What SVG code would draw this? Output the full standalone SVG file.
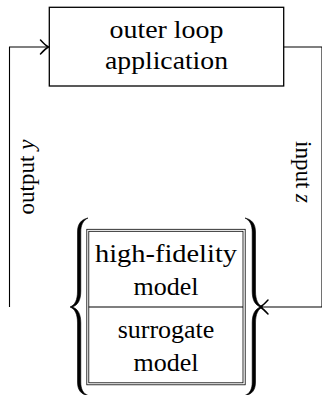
<svg xmlns="http://www.w3.org/2000/svg" width="322" height="395" viewBox="0 0 322 395">
<style>
.box{fill:#fff;stroke:#000;stroke-width:1.3}
.dbl{fill:none;stroke:#000;stroke-width:0.8}
.line{fill:none;stroke:#000;stroke-width:1.1}
.brace{fill:#000;stroke:#000;stroke-width:0.6;stroke-linejoin:round}
.txt{font-family:'Liberation Serif','DejaVu Serif',serif;font-size:26px;fill:#000;text-anchor:middle}
.lbl{font-size:23px}
</style>
<defs>
<marker id="arr" markerUnits="userSpaceOnUse" markerWidth="16" markerHeight="18" viewBox="-10 -9 12 18" refX="0" refY="0" orient="auto">
<path d="M-8,-7 Q-3,-1.5 0,0 Q-3,1.5 -8,7" fill="none" stroke="#000" stroke-width="1.5" stroke-linecap="round"/>
</marker>
</defs>
<g id="connectors">
<path class="line" d="M9.5,307 V47 H48.5" marker-end="url(#arr)"/>
<path class="line" d="M284,47 H322 V307 H260" marker-end="url(#arr)"/>
</g>
<g id="outer-loop">
<rect class="box" x="49.3" y="7.3" width="234.4" height="78.7"/>
<text class="txt" x="166.5" y="38" textLength="114" lengthAdjust="spacingAndGlyphs">outer loop</text>
<text class="txt" x="166.5" y="69" textLength="123" lengthAdjust="spacingAndGlyphs">application</text>
</g>
<g id="models">
<path class="brace" d="M88,218 C81,219.5 77.5,224 77.5,232 L77.5,291 C77.5,300 75,305 70,307 C75,309 77.5,314 77.5,323 L77.5,382 C77.5,390 81,394.5 88,395.5 C83,393.5 80.8,389 80.8,382 L80.8,323 C80.8,314 78,309 72.5,307 C78,305 80.8,300 80.8,291 L80.8,232 C80.8,225 83,220.5 88,218 Z"/>
<path class="brace" d="M245,218 C252,219.5 255.5,224 255.5,232 L255.5,291 C255.5,300 258,305 263,307 C258,309 255.5,314 255.5,323 L255.5,382 C255.5,390 252,394.5 245,395.5 C250,393.5 252.2,389 252.2,382 L252.2,323 C252.2,314 255,309 260.5,307 C255,305 252.2,300 252.2,291 L252.2,232 C252.2,225 250,220.5 245,218 Z"/>
<rect class="dbl" x="86.8" y="229.3" width="158.4" height="155.5"/>
<rect class="dbl" x="88.8" y="231.3" width="154.2" height="151.5"/>
</g>
<g id="high-fidelity">
<text class="txt" x="166" y="262" textLength="142" lengthAdjust="spacingAndGlyphs">high-fidelity</text>
<text class="txt" x="166" y="295">model</text>
</g>
<g id="surrogate">
<line class="line" x1="88.8" y1="307" x2="243" y2="307"/>
<text class="txt" x="166" y="338">surrogate</text>
<text class="txt" x="166" y="371">model</text>
</g>
<g id="labels">
<text class="txt lbl" transform="translate(34,177) rotate(-90)">output <tspan font-style="italic">y</tspan></text>
<text class="txt lbl" transform="translate(296,172) rotate(90)">input <tspan font-style="italic">z</tspan></text>
</g>
</svg>
